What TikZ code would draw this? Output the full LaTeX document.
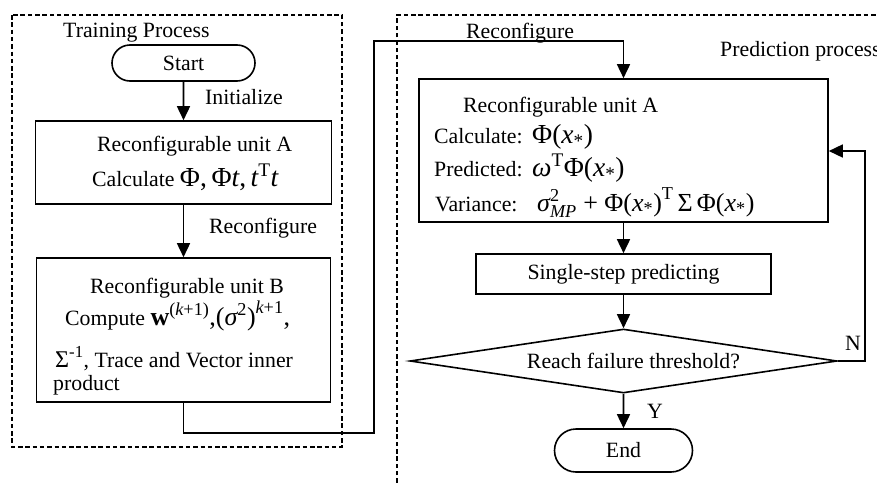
\documentclass[tikz,border=0pt]{standalone}
\usepackage{fontspec}
\usepackage{amsmath}
\setmainfont{Liberation Serif}
\usetikzlibrary{arrows.meta,shapes.geometric,shapes.misc}

% upright / italic pieces of the formulas, set in the text face
\newcommand{\txup}[1]{\text{\upshape #1}}
\newcommand{\txit}[1]{\text{\itshape #1}}
\newcommand{\mathsz}{\fontsize{27.5}{32}\selectfont}

\tikzset{
  every node/.style={font=\fontsize{21.8}{26}\selectfont, inner sep=0pt},
  box/.style={draw, line width=1.6pt, rectangle},
  term/.style={draw, line width=1.6pt, rounded rectangle},
  decide/.style={draw, line width=1.6pt, diamond, aspect=6.67},
  flow/.style={line width=1.6pt, -{Triangle[length=14pt,width=13pt]}},
  region/.style={line width=2.4pt, dash pattern=on 4.5pt off 2.8pt},
  lbl/.style={anchor=base west},
}

\begin{document}
\begin{tikzpicture}[x=1pt, y=-1pt]
\useasboundingbox (0,0) rectangle (877,482);

% process regions
\draw[region] (12,15) rectangle (342,447);
\draw[region] (397,490) -- (397,15) -- (890,15);
\node[lbl] (ttrain) at (63,37) {Training Process};
\node[lbl] (tpred) at (720,56) {Prediction process};

% training side
\node[term, minimum width=143pt, minimum height=36pt] (start) at (183.5,63) {Start};
\node[box, minimum width=296pt, minimum height=83pt] (boxA) at (183.5,162.5) {};
\node[box, minimum width=294pt, minimum height=144pt] (boxB) at (183.5,330) {};

\node[lbl] (a1) at (97,151) {Reconfigurable unit A};
\node[lbl] (a2) at (92,186) {Calculate {\mathsz$\txup{Φ,\,Φ}\txit{t}\txup{,\,}\txit{t}^{\txup{T}}\txit{t}$}};

\node[lbl] (b1) at (90,293) {Reconfigurable unit B};
\node[lbl] (b2) at (65,325) {Compute {\fontsize{26}{30}\selectfont$\text{\bfseries w}^{\txup{(}\txit{k}\txup{+1)}}\txup{,(}\txit{σ}^{\txup{2}}\txup{)}^{\txit{k}\txup{+1}}\txup{,}$}};
\node[lbl] (b3) at (55,367) {{\fontsize{24}{28}\selectfont$\txup{Σ}^{\txup{-1}}$}, Trace and Vector inner};
\node[lbl] (b4) at (53,390) {product};

\draw[flow] (start) -- (start |- boxA.north);
\node[lbl] (tinit) at (205,104) {Initialize};
\draw[flow] (boxA) -- (boxB);
\node[lbl] (trec1) at (209,233) {Reconfigure};

% prediction side
\node[box, minimum width=409pt, minimum height=143pt] (predA) at (623.5,150.5) {};
\node[lbl] (p1) at (463,112) {Reconfigurable unit A};
\node[lbl] (p2) at (434,143) {Calculate:};
\node[lbl] (p2m) at (532,143) {\mathsz$\txup{Φ(}\txit{x}_{\txup{*}}\txup{)}$};
\node[lbl] (p3) at (434,176) {Predicted:};
\node[lbl] (p3m) at (532,176) {\mathsz$\txit{ω}^{\txup{T}}\txup{Φ(}\txit{x}_{\txup{*}}\txup{)}$};
\node[lbl] (p4) at (435,211) {Variance:};
\node[lbl] (p4m) at (537,211) {\fontsize{26}{30}\selectfont$\txit{σ}^{\txup{2}}_{\txit{MP}}\txup{ + Φ(}\txit{x}_{\txup{*}}\txup{)}^{\txup{T}}\,\txup{Σ}\,\txup{Φ(}\txit{x}_{\txup{*}}\txup{)}$};

\node[box, minimum width=295pt, minimum height=40pt] (step) at (623.5,274) {Single-step predicting};
\node[decide, minimum width=427pt, minimum height=64pt] (dec) at (623.5,361) {\hspace{20pt}Reach failure threshold?};
\node[term, minimum width=138pt, minimum height=43pt] (end) at (623.5,450.5) {End};

\draw[flow] (predA) -- (step);
\draw[flow] (step) -- (dec);
\draw[flow] (dec) -- (end);
\node[lbl] (ty) at (647,418) {Y};

% loop back while the threshold is not reached
\coordinate (fb) at (865,151);
\draw[flow] (dec.east) -| (fb) -- (fb -| predA.east);
\node[lbl] (tn) at (845,350) {N};

% hand-over from training to prediction
\coordinate (h1) at (374,433);
\coordinate (h2) at (374,41);
\draw[flow] (boxB.south) |- (h1) -- (h2) -| (predA.north);
\node[lbl] (trec2) at (466,38) {Reconfigure};
\end{tikzpicture}
\end{document}
